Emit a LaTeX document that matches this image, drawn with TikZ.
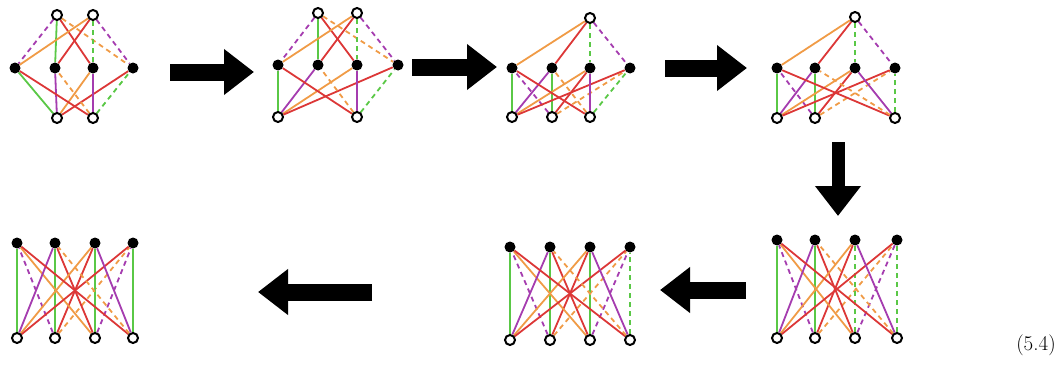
\documentclass[tikz,border=0pt]{standalone}
\usetikzlibrary{arrows.meta}
\usetikzlibrary{backgrounds}

\definecolor{egreen}{RGB}{90,200,70}
\definecolor{epurple}{RGB}{165,60,175}
\definecolor{eorange}{RGB}{240,155,70}
\definecolor{ered}{RGB}{220,55,55}

\tikzset{
    bv/.style={circle,fill=black,inner sep=0pt,minimum size=11pt},
    wv/.style={circle,draw=black,fill=white,line width=2pt,inner sep=0pt,minimum size=10pt},
    e/.style={line width=1.8pt},
    dsh/.style={dash pattern=on 5pt off 4pt},
    bigarrow/.style={line width=17pt,-{Triangle[length=30pt,width=44pt]}},
}

% the sixteen edges; #2 and #3 are the styles of the green edges b-3 and d-4
\newcommand{\kedges}[3]{%
    \begin{scope}[on background layer={e}]
        \draw[epurple,dsh] (#1-a) -- (#1-1);
        \draw[egreen] (#1-a) -- (#1-2);
        \draw[ered] (#1-a) -- (#1-3);
        \draw[eorange,dsh] (#1-a) -- (#1-4);
        \draw[eorange] (#1-b) -- (#1-1);
        \draw[ered] (#1-b) -- (#1-2);
        \draw[egreen,#2] (#1-b) -- (#1-3);
        \draw[epurple,dsh] (#1-b) -- (#1-4);
        \draw[egreen] (#1-c) -- (#1-1);
        \draw[epurple] (#1-c) -- (#1-2);
        \draw[eorange] (#1-c) -- (#1-3);
        \draw[ered] (#1-c) -- (#1-4);
        \draw[ered] (#1-d) -- (#1-1);
        \draw[eorange,dsh] (#1-d) -- (#1-2);
        \draw[epurple] (#1-d) -- (#1-3);
        \draw[egreen,#3] (#1-d) -- (#1-4);
    \end{scope}}

\begin{document}
\begin{tikzpicture}[x=1pt,y=-1pt]
    \useasboundingbox (0,0) rectangle (1063,372);

    % first row
    \foreach \i/\x in {1/15,2/55,3/93,4/133} \node[bv] (p1-\i) at (\x,68) {};
    \node[wv] (p1-a) at (57,15) {};
    \node[wv] (p1-b) at (93,15) {};
    \node[wv] (p1-c) at (57,118) {};
    \node[wv] (p1-d) at (93,118) {};
    \kedges{p1}{dsh}{dsh}

    \foreach \i/\x in {1/278,2/318,3/357,4/398} \node[bv] (p2-\i) at (\x,65) {};
    \node[wv] (p2-a) at (318,13) {};
    \node[wv] (p2-b) at (357,13) {};
    \node[wv] (p2-c) at (278,117) {};
    \node[wv] (p2-d) at (357,117) {};
    \kedges{p2}{dsh}{dsh}

    \foreach \i/\x in {1/512,2/552,3/590,4/630} \node[bv] (p3-\i) at (\x,68) {};
    \node[wv] (p3-b) at (590,18) {};
    \node[wv] (p3-c) at (512,117) {};
    \node[wv] (p3-a) at (552,117) {};
    \node[wv] (p3-d) at (590,117) {};
    \kedges{p3}{dsh}{dsh}

    \foreach \i/\x in {1/777,2/815,3/855,4/895} \node[bv] (p4-\i) at (\x,68) {};
    \node[wv] (p4-b) at (855,17) {};
    \node[wv] (p4-c) at (777,118) {};
    \node[wv] (p4-a) at (815,118) {};
    \node[wv] (p4-d) at (895,118) {};
    \kedges{p4}{dsh}{dsh}

    % second row
    \foreach \i/\x in {1/777,2/815,3/855,4/897} \node[bv] (p5-\i) at (\x,240) {};
    \node[wv] (p5-c) at (777,338) {};
    \node[wv] (p5-a) at (815,338) {};
    \node[wv] (p5-b) at (855,338) {};
    \node[wv] (p5-d) at (897,338) {};
    \kedges{p5}{dsh}{dsh}

    \foreach \i/\x in {1/510,2/550,3/590,4/630} \node[bv] (p6-\i) at (\x,247) {};
    \node[wv] (p6-c) at (510,340) {};
    \node[wv] (p6-a) at (550,340) {};
    \node[wv] (p6-b) at (590,340) {};
    \node[wv] (p6-d) at (630,340) {};
    \kedges{p6}{solid}{dsh}

    \foreach \i/\x in {1/17,2/55,3/95,4/133} \node[bv] (p7-\i) at (\x,243) {};
    \node[wv] (p7-c) at (17,338) {};
    \node[wv] (p7-a) at (55,338) {};
    \node[wv] (p7-b) at (95,338) {};
    \node[wv] (p7-d) at (133,338) {};
    \kedges{p7}{solid}{solid}

    % arrows between the steps
    \coordinate (s1) at (170,72);  \coordinate (t1) at (254,72);
    \coordinate (s2) at (412,67);  \coordinate (t2) at (497,67);
    \coordinate (s3) at (665,68);  \coordinate (t3) at (747,68);
    \coordinate (s4) at (838,142); \coordinate (t4) at (838,216);
    \coordinate (s5) at (746,290); \coordinate (t5) at (660,290);
    \coordinate (s6) at (372,292); \coordinate (t6) at (258,292);
    \draw[bigarrow] (s1) -- (t1);
    \draw[bigarrow] (s2) -- (t2);
    \draw[bigarrow] (s3) -- (t3);
    \draw[bigarrow,line width=13pt] (s4) -- (t4);
    \draw[bigarrow] (s5) -- (t5);
    \draw[bigarrow] (s6) -- (t6);

    \node[font=\fontsize{21}{25}\selectfont] (eqno) at (1036,345) {(5.4)};
\end{tikzpicture}
\end{document}
